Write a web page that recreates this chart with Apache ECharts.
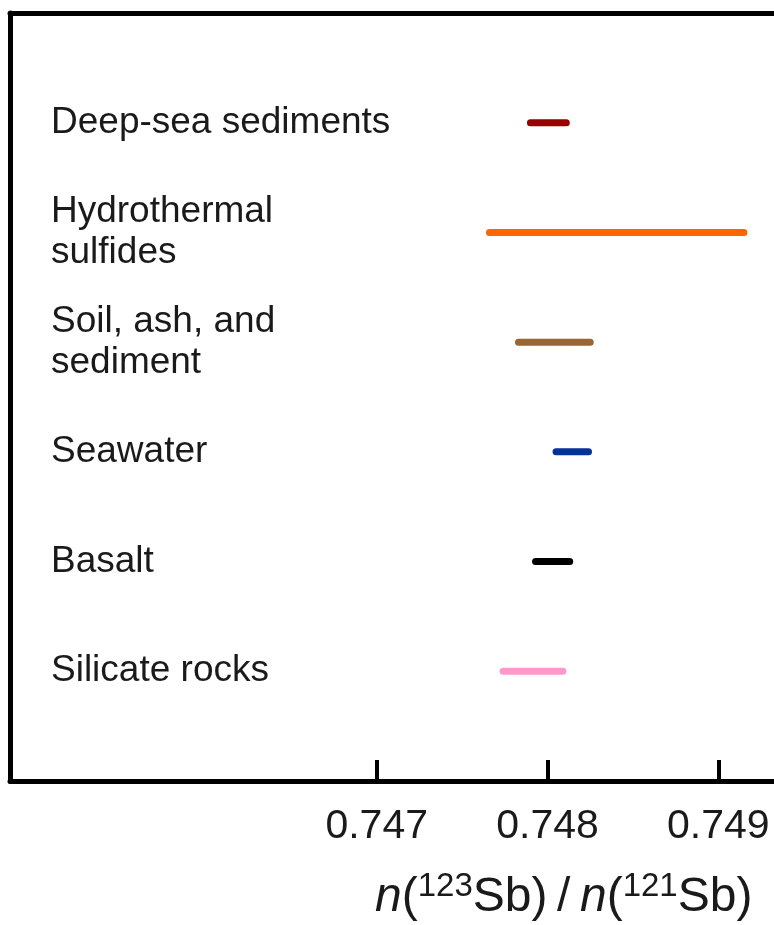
<!DOCTYPE html>
<html>
<head>
<meta charset="utf-8">
<script src="https://cdn.jsdelivr.net/npm/echarts@6/dist/echarts.min.js"></script>
<style>
html,body{margin:0;padding:0;background:#fff;}
#chart{width:774px;height:925px;}
</style>
</head>
<body>
<div id="chart"></div>
<script>
// Categories, top to bottom
const categories = ['Deep-sea sediments', 'Hydrothermal\nsulfides', 'Soil, ash, and\nsediment', 'Seawater', 'Basalt', 'Silicate rocks'];
// Range of n(123Sb)/n(121Sb) for each category
const lowValues  = [0.74790, 0.74766, 0.74783, 0.74805, 0.74793, 0.74774];
const highValues = [0.74811, 0.74915, 0.74825, 0.74824, 0.74813, 0.74809];
const colors = ['#990000', '#FF6600', '#996633', '#003399', '#000000', '#FF99CC'];
const tickValues = [0.747, 0.748, 0.749];

const n = categories.length;
const rowValue = i => n - i; // top row highest
const data = categories.map((c, i) => [lowValues[i], highValues[i], rowValue(i), i]);

const xMin = 0.744853, xMax = 0.749326;
const font = 'Liberation Sans, Arial, sans-serif';
const chart = echarts.init(document.getElementById('chart'), null, {renderer: 'canvas'});
chart.setOption({
  animation: false,
  backgroundColor: '#ffffff',
  title: {
    text: '{i|n}({s|123}Sb)\u2009/\u2009{i|n}({s|121}Sb)',
    left: 370, top: 865,
    textStyle: {
      fontFamily: font, fontSize: 48, color: '#1a1a1a', fontWeight: 'normal',
      rich: {
        i: {fontStyle: 'italic', fontSize: 48, fontFamily: font, color: '#1a1a1a'},
        s: {fontSize: 33, fontFamily: font, color: '#1a1a1a', verticalAlign: 'top', padding: [0, 0, 22, 0]}
      }
    }
  },
  grid: {left: 10, right: 0, top: 13, bottom: 144, containLabel: false},
  xAxis: [{
    type: 'value', position: 'bottom', min: xMin, max: xMax,
    axisLine: {show: true, lineStyle: {color: '#000', width: 5}},
    axisTick: {show: true, inside: true, length: 21, lineStyle: {color: '#000', width: 4}, customValues: tickValues},
    axisLabel: {show: true, customValues: tickValues, fontFamily: font, fontSize: 41, color: '#1a1a1a', margin: 25,
      formatter: v => v.toFixed(3)},
    splitLine: {show: false}
  }, {
    type: 'value', position: 'top', min: xMin, max: xMax,
    axisLine: {show: true, lineStyle: {color: '#000', width: 5}},
    axisTick: {show: false}, axisLabel: {show: false}, splitLine: {show: false}
  }],
  yAxis: {
    type: 'value', min: 0, max: n + 1, interval: 1,
    axisLine: {show: true, lineStyle: {color: '#000', width: 5}},
    axisTick: {show: false}, splitLine: {show: false},
    axisLabel: {
      inside: true, margin: 41, align: 'left', fontFamily: font, fontSize: 37, lineHeight: 41, color: '#1a1a1a',
      padding: [8, 0, 0, 0],
      formatter: v => { const i = n - v; return (i >= 0 && i < n && Number.isInteger(i)) ? categories[i] : ''; }
    }
  },
  series: [{
    type: 'custom',
    data: data,
    encode: {x: [0, 1], y: 2},
    renderItem: (params, api) => {
      const p1 = api.coord([api.value(0), api.value(2)]);
      const p2 = api.coord([api.value(1), api.value(2)]);
      return {
        type: 'line',
        shape: {x1: p1[0], y1: p1[1], x2: p2[0], y2: p2[1]},
        style: {stroke: colors[api.value(3)], lineWidth: 7, lineCap: 'round'}
      };
    }
  }]
});
</script>
</body>
</html>
